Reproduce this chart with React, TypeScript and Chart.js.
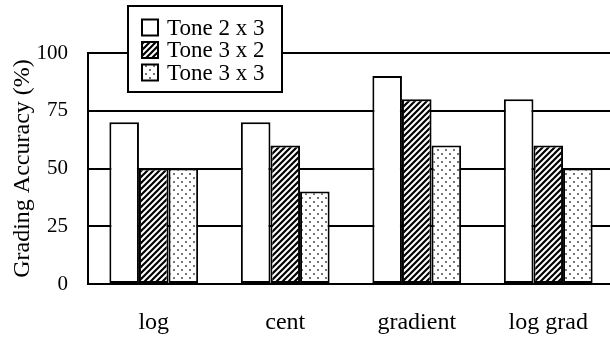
import React, { useEffect, useRef } from "react";
import { Chart, registerables } from "chart.js";

Chart.register(...registerables);

const categories = ["log", "cent", "gradient", "log grad"];
const seriesLabels = ["Tone 2 x 3", "Tone 3 x 2", "Tone 3 x 3"];
const tone2x3 = [70, 70, 90, 80];
const tone3x2 = [50, 60, 80, 60];
const tone3x3 = [50, 40, 60, 50];
const yTicks = [0, 25, 50, 75, 100];

const FONT = "'Liberation Serif', 'Times New Roman', serif";

function makeHatch(): CanvasPattern | string {
  const c = document.createElement("canvas");
  c.width = 6;
  c.height = 6;
  const g = c.getContext("2d");
  if (!g) return "#888";
  g.fillStyle = "#fff";
  g.fillRect(0, 0, 6, 6);
  g.strokeStyle = "#000";
  g.lineWidth = 2.2;
  g.beginPath();
  g.moveTo(-3, 3); g.lineTo(3, -3);
  g.moveTo(0, 6); g.lineTo(6, 0);
  g.moveTo(3, 9); g.lineTo(9, 3);
  g.stroke();
  return g.createPattern(c, "repeat") as CanvasPattern;
}

function makeDots(): CanvasPattern | string {
  const c = document.createElement("canvas");
  c.width = 8;
  c.height = 8;
  const g = c.getContext("2d");
  if (!g) return "#eee";
  g.fillStyle = "#fff";
  g.fillRect(0, 0, 8, 8);
  g.fillStyle = "#777";
  g.fillRect(1, 1, 2, 2);
  g.fillRect(5, 5, 2, 2);
  return g.createPattern(c, "repeat") as CanvasPattern;
}

const legendPlugin = {
  id: "boxLegend",
  afterDraw(chart: any) {
    const ctx = chart.ctx as CanvasRenderingContext2D;
    const x0 = 128, y0 = 6, w = 154, h = 86;
    ctx.save();
    ctx.fillStyle = "#fff";
    ctx.fillRect(x0, y0, w, h);
    ctx.strokeStyle = "#000";
    ctx.lineWidth = 2;
    ctx.strokeRect(x0, y0, w, h);
    ctx.font = `23px ${FONT}`;
    ctx.textBaseline = "middle";
    ctx.textAlign = "left";
    chart.data.datasets.forEach((ds: any, i: number) => {
      const cy = 27.5 + i * 22.5;
      ctx.fillStyle = ds.backgroundColor;
      ctx.fillRect(142, cy - 8, 16, 16);
      ctx.lineWidth = 2;
      ctx.strokeStyle = "#000";
      ctx.strokeRect(142, cy - 8, 16, 16);
      ctx.fillStyle = "#000";
      ctx.fillText(ds.label, 167, cy + 1);
    });
    ctx.restore();
  },
};

export default function App() {
  const ref = useRef<HTMLCanvasElement | null>(null);

  useEffect(() => {
    if (!ref.current) return;
    const fills = ["#fff", makeHatch(), makeDots()];
    const values = [tone2x3, tone3x2, tone3x3];
    const chart = new Chart(ref.current, {
      type: "bar",
      data: {
        labels: categories,
        datasets: values.map((v, i) => ({
          label: seriesLabels[i],
          data: v,
          backgroundColor: fills[i] as any,
          borderColor: "#000",
          borderWidth: 2,
          borderSkipped: false,
          categoryPercentage: 0.675,
          barPercentage: 1,
        })),
      },
      options: {
        animation: false,
        responsive: false,
        devicePixelRatio: 1,
        layout: { padding: { top: 53, right: 0, bottom: 0, left: 0 } },
        plugins: {
          legend: { display: false },
          tooltip: { enabled: false },
        },
        scales: {
          x: {
            grid: { display: false, drawTicks: false },
            border: { display: true, color: "#000", width: 2 },
            ticks: {
              color: "#000",
              font: { family: FONT, size: 24 },
              padding: 24,
              maxRotation: 0,
              autoSkip: false,
            },
            afterFit: (scale: any) => {
              scale.height = 56;
            },
          },
          y: {
            min: 0,
            max: 100,
            afterBuildTicks: (scale: any) => {
              scale.ticks = yTicks.map((v) => ({ value: v }));
            },
            grid: { color: "#000", lineWidth: 2, drawTicks: false },
            border: { display: true, color: "#000", width: 2 },
            ticks: {
              color: "#000",
              font: { family: FONT, size: 21 },
              padding: 20,
            },
            title: {
              display: true,
              text: "Grading Accuracy (%)",
              color: "#000",
              font: { family: FONT, size: 24, weight: "normal" },
              padding: { top: 8, bottom: 0 },
            },
            afterFit: (scale: any) => {
              scale.width = 88;
            },
          },
        },
      },
      plugins: [legendPlugin],
    });
    return () => chart.destroy();
  }, []);

  return (
    <div
      style={{
        position: "fixed",
        left: 0,
        top: 0,
        width: 610,
        height: 340,
        overflow: "hidden",
        background: "#fff",
      }}
    >
      <canvas ref={ref} width={614} height={340} style={{ display: "block" }} />
    </div>
  );
}
